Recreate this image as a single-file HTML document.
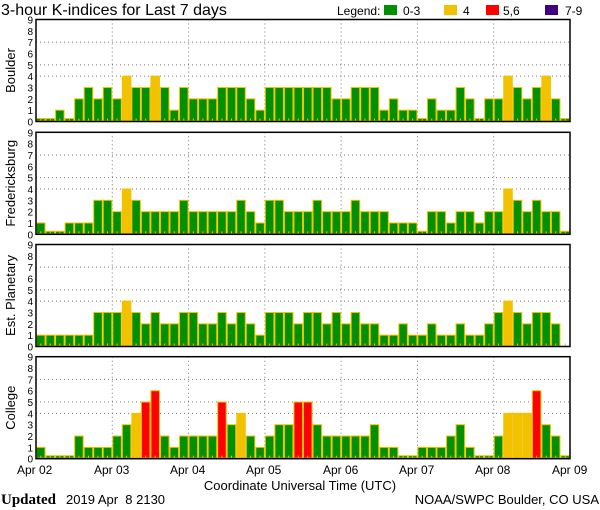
<!DOCTYPE html>
<html><head><meta charset="utf-8"><style>
html,body{margin:0;padding:0;background:#fff;}
svg{display:block;font-family:"Liberation Sans",sans-serif;}
</style></head><body>
<svg id="s" width="600" height="510" viewBox="0 0 600 510" xmlns="http://www.w3.org/2000/svg">
<rect width="600" height="510" fill="#fff"/>
<text x="1" y="15" font-size="16" fill="#000">3-hour K-indices for Last 7 days</text>
<text x="337" y="15" font-size="12" fill="#000">Legend:</text>
<rect x="384" y="5" width="13" height="10" fill="#009000"/><text x="403" y="15" font-size="12">0-3</text>
<rect x="444" y="5" width="13" height="10" fill="#f2c200"/><text x="463" y="15" font-size="12">4</text>
<rect x="486" y="5" width="13" height="10" fill="#ff0000"/><text x="503" y="15" font-size="12">5,6</text>
<rect x="545" y="5" width="13" height="10" fill="#400080"/><text x="565" y="15" font-size="12">7-9</text>
<g id="panels"></g>
<text x="17" y="474" font-size="12">Apr 02</text>
<text x="94" y="474" font-size="12">Apr 03</text>
<text x="170" y="474" font-size="12">Apr 04</text>
<text x="246" y="474" font-size="12">Apr 05</text>
<text x="323" y="474" font-size="12">Apr 06</text>
<text x="399" y="474" font-size="12">Apr 07</text>
<text x="475" y="474" font-size="12">Apr 08</text>
<text x="552" y="474" font-size="12">Apr 09</text>
<text x="300" y="490" font-size="13" text-anchor="middle">Coordinate Universal Time (UTC)</text>
<text x="1" y="504" font-size="15" font-family="Liberation Serif,serif" font-weight="bold">Updated</text>
<text x="66" y="504" font-size="13" xml:space="preserve" style="white-space:pre">2019 Apr  8 2130</text>
<text x="599" y="504" font-size="13" text-anchor="end">NOAA/SWPC Boulder, CO USA</text>
</svg>
<script>
var P=[
 {n:"Boulder",t:19.5,d:[0,0,1,0,2,3,2,3, 2,4,3,3,4,3,1,3, 2,2,2,3,3,3,2,1, 3,3,3,3,3,3,3,2, 2,3,3,3,1,2,1,1, 0,2,1,1,3,2,0,2, 2,4,3,2,3,4,2,0]},
 {n:"Fredericksburg",t:132.3,d:[1,0,0,1,1,1,3,3, 2,4,3,2,2,2,2,3, 2,2,2,2,2,3,2,1, 3,3,2,2,2,3,2,2, 2,3,2,2,2,1,1,1, 0,2,2,1,2,2,1,2, 2,4,3,2,3,2,2,0]},
 {n:"Est. Planetary",t:244.5,d:[1,1,1,1,1,1,3,3, 3,4,3,2,3,2,2,3, 3,2,2,3,2,3,2,1, 3,3,3,2,3,3,2,3, 2,3,2,2,1,1,2,1, 1,2,1,1,2,1,1,2, 3,4,3,2,3,3,2,-1]},
 {n:"College",t:356.7,d:[1,0,0,0,2,1,1,1, 2,3,4,5,6,2,1,2, 2,2,2,5,3,4,2,1, 2,3,3,5,5,3,2,2, 2,2,2,3,1,1,0,0, 1,1,1,2,3,1,0,0, 2,4,4,4,6,3,2,0]}
];
var NS="http://www.w3.org/2000/svg",g=document.getElementById("panels");
function el(tag,a,txt){var e=document.createElementNS(NS,tag);for(var k in a)e.setAttribute(k,a[k]);if(txt!=null)e.textContent=txt;g.appendChild(e);return e;}
var X0=36,X1=570,H=102,U=H/9,BW=(X1-X0)/56;
P.forEach(function(p){
 var t=p.t,b=t+H;
 [4,5,7].forEach(function(v){var y=b-v*U;el("line",{x1:X0,x2:X1,y1:y,y2:y,stroke:"#777","stroke-dasharray":"1,3"});});
 for(var d=1;d<7;d++){var x=X0+d*8*BW;el("line",{x1:x,x2:x,y1:t,y2:b,stroke:"#777","stroke-dasharray":"1,3"});}
 p.d.forEach(function(v,i){
  var x=X0+i*BW;
  if(v>=0){
   var h=v==0?3:v*U;
   var c=v<=3?"#009000":v==4?"#f2c200":v<=6?"#ff0000":"#400080";
   el("rect",{x:x+0.5,y:b-h,width:BW-1,height:h-0.5,fill:c,stroke:"#f2c200","stroke-width":1});
  }
  el("line",{x1:x+BW/2,x2:x+BW/2,y1:b-3,y2:b,stroke:"#f2c200"});
 });
 el("rect",{x:X0,y:t,width:X1-X0,height:H,fill:"none",stroke:"#000","stroke-width":1.5});
 for(var v=0;v<=9;v++)el("text",{x:33,y:b-v*U+4,"font-size":10,"text-anchor":"end"},String(v));
 var cy=t+H/2;
 el("text",{x:15,y:cy,"font-size":13,"text-anchor":"middle",transform:"rotate(-90 15 "+cy+")"},p.n);
});
</script>
</body></html>
